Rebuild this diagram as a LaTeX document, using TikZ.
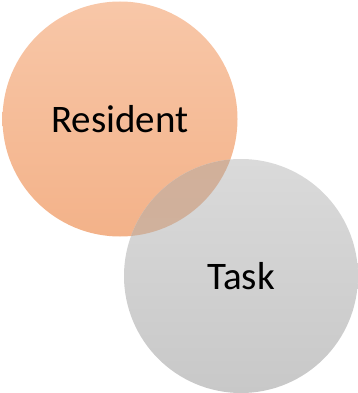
\documentclass[tikz,border=0pt]{standalone}
\usepackage{fontspec}
\setmainfont{Carlito}
\definecolor{restop}{RGB}{248,199,168}
\definecolor{resbot}{RGB}{243,178,137}
\definecolor{tasktop}{RGB}{218,218,218}
\definecolor{taskbot}{RGB}{200,200,200}
\definecolor{bothtop}{RGB}{209,176,154}
\definecolor{bothbot}{RGB}{206,178,160}
\tikzset{
  label text/.style={font=\fontsize{39}{47}\selectfont, text=black},
}
\begin{document}
\begin{tikzpicture}[x=1pt,y=-1pt]
\useasboundingbox (0,0) rectangle (358,393);
% circles
\shade[top color=restop, bottom color=resbot] (120,119) circle (117.5);
\shade[top color=tasktop, bottom color=taskbot] (241,276) circle (117);
\begin{scope}
\clip (120,119) circle (117.5);
\shade[top color=bothtop, bottom color=bothbot] (241,276) circle (117);
\end{scope}
% labels
\node[label text] (resident) at (120,119) {Resident};
\node[label text] (task) at (241,276) {Task};
\end{tikzpicture}
\end{document}
